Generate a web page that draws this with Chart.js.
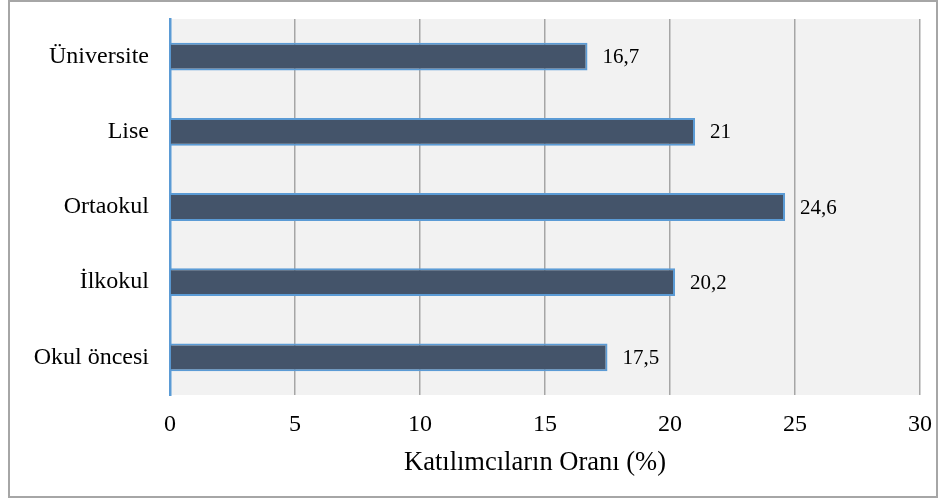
<!DOCTYPE html>
<html>
<head>
<meta charset="utf-8">
<script src="https://cdn.jsdelivr.net/npm/chart.js@4"></script>
<style>
  body { margin: 0; background: #fff; }
  #wrap { width: 939px; height: 499px; }
</style>
</head>
<body>
<div id="wrap"><canvas id="egitimChart"></canvas></div>
<script>
const categories = ['Üniversite', 'Lise', 'Ortaokul', 'İlkokul', 'Okul öncesi'];
const oranlar = [16.7, 21, 24.6, 20.2, 17.5];
const xTicks = [0, 5, 10, 15, 20, 25, 30];
const xTitle = 'Katılımcıların Oranı (%)';

const serif = "'Liberation Serif', 'Times New Roman', serif";

// gri cerceve ve cizim alani arka plani
const backgroundPlugin = {
    id: 'arkaPlan',
    beforeDraw(chart) {
        const ctx = chart.ctx;
        const a = chart.chartArea;
        ctx.save();
        ctx.fillStyle = '#ffffff';
        ctx.fillRect(0, 0, chart.width, chart.height);
        ctx.strokeStyle = '#a6a6a6';
        ctx.lineWidth = 2;
        ctx.strokeRect(9, 1, 928, 496);
        ctx.fillStyle = '#f2f2f2';
        ctx.fillRect(a.left, a.top, a.right - a.left, a.bottom - a.top);
        ctx.restore();
    }
};

// cubuk sonundaki deger etiketleri + eksen basligi
const valueLabels = {
    id: 'degerEtiketleri',
    afterDatasetsDraw(chart) {
        const ctx = chart.ctx;
        const meta = chart.getDatasetMeta(0);
        ctx.save();
        ctx.font = '21px ' + serif;
        ctx.fillStyle = '#000';
        ctx.textAlign = 'left';
        ctx.textBaseline = 'middle';
        meta.data.forEach((bar, i) => {
            ctx.fillText(String(oranlar[i]).replace('.', ','), bar.x + 15, bar.y + 1);
        });
        // baslik Excel'deki gibi biraz sola kayik
        const a = chart.chartArea;
        ctx.font = '26.5px ' + serif;
        ctx.textAlign = 'center';
        ctx.fillText(xTitle, (a.left + a.right) / 2 - 10, 463);
        ctx.restore();
    }
};

const chartCtx = document.getElementById('egitimChart').getContext('2d');
const egitimChart = new Chart(chartCtx, {
    type: 'bar',
    data: {
        labels: categories,
        datasets: [{
            data: oranlar,
            backgroundColor: '#44546a',
            borderColor: '#5b9bd5',
            borderWidth: 2,
            borderSkipped: 'start',
            barPercentage: 0.37,
            categoryPercentage: 1
        }]
    },
    options: {
        indexAxis: 'y',
        responsive: true,
        maintainAspectRatio: false,
        animation: false,
        layout: {
            padding: { left: 10, top: 19, right: 19, bottom: 0 }
        },
        plugins: {
            legend: { display: false },
            tooltip: { enabled: false }
        },
        scales: {
            x: {
                min: 0,
                max: 30,
                afterBuildTicks(scale) {
                    scale.ticks = xTicks.map(v => ({ value: v }));
                },
                afterFit(scale) {
                    scale.height = 104;
                    scale.paddingLeft = 0;
                    scale.paddingRight = 0;
                },
                border: { display: false },
                grid: {
                    drawTicks: false,
                    lineWidth: 1.5,
                    color: c => (c.tick && c.tick.value === 0) ? 'rgba(0,0,0,0)' : '#a6a6a6'
                },
                ticks: {
                    padding: 15,
                    color: '#000',
                    font: { family: serif, size: 24 }
                },
                title: { display: false }
            },
            y: {
                afterFit(scale) {
                    scale.width = 160;
                    scale.paddingTop = 0;
                    scale.paddingBottom = 0;
                },
                border: { color: '#5b9bd5', width: 2.5 },
                grid: { display: false, drawTicks: false },
                ticks: {
                    padding: 21,
                    color: '#000',
                    font: { family: serif, size: 24 }
                }
            }
        }
    },
    plugins: [backgroundPlugin, valueLabels]
});
</script>
</body>
</html>
